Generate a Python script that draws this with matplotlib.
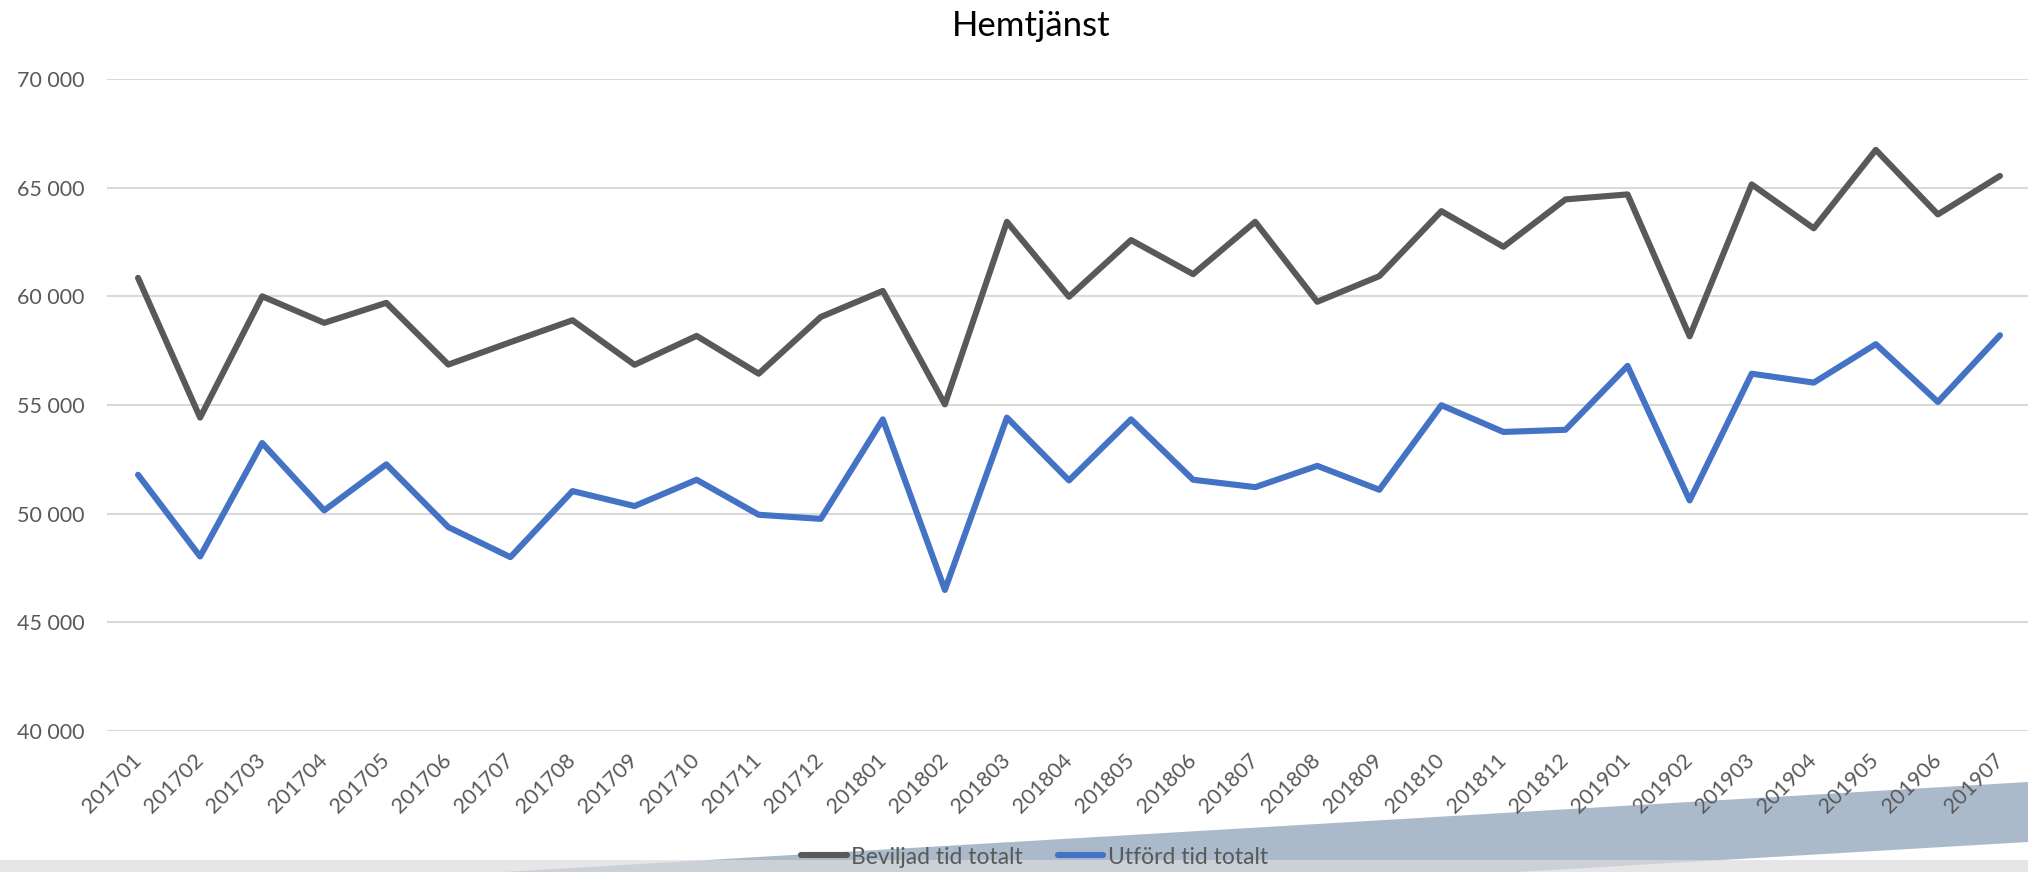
import matplotlib
matplotlib.use("Agg")
import matplotlib.pyplot as plt
from matplotlib.patches import Polygon, Rectangle
from matplotlib.ticker import FuncFormatter

plt.rcParams['font.family'] = ['Lato', 'DejaVu Sans']

months = ["201701", "201702", "201703", "201704", "201705", "201706", "201707", "201708",
          "201709", "201710", "201711", "201712", "201801", "201802", "201803", "201804",
          "201805", "201806", "201807", "201808", "201809", "201810", "201811", "201812",
          "201901", "201902", "201903", "201904", "201905", "201906", "201907"]

beviljad = [60850, 54420, 60000, 58780, 59700, 56860, 57890, 58900,
            56850, 58180, 56440, 59050, 60250, 55030, 63430, 59980,
            62590, 61020, 63430, 59750, 60930, 63920, 62280, 64460,
            64690, 58160, 65150, 63130, 66740, 63770, 65540]

utford = [51790, 48030, 53250, 50150, 52270, 49380, 48000, 51040,
          50350, 51560, 49950, 49760, 54340, 46490, 54420, 51530,
          54340, 51560, 51220, 52200, 51100, 54990, 53760, 53860,
          56800, 50610, 56440, 56030, 57800, 55140, 58210]

series_names = ["Beviljad tid totalt", "Utförd tid totalt"]
title = "Hemtjänst"

W, H = 2028, 872
fig = plt.figure(figsize=(W / 100, H / 100), dpi=100)

# decorative background shapes (bottom)
def fp(x, y):
    return (x / W, 1 - y / H)

wedge = Polygon([fp(504, 872), fp(2028, 782), fp(2028, 842), fp(1518, 872)],
                closed=True, transform=fig.transFigure, facecolor='#ABBACB',
                edgecolor='none', zorder=-3)
fig.patches.append(wedge)
band = Rectangle(fp(0, 872), 1, 12 / H, transform=fig.transFigure,
                 facecolor='#DBDCDF', alpha=0.69, edgecolor='none', zorder=-2)
fig.patches.append(band)

ax = fig.add_axes([107 / W, 141 / H, (2031 - 107) / W, (731 - 79) / H])
ax.set_facecolor('none')

ax.plot(months, beviljad, color='#595959', linewidth=4.4,
        solid_capstyle='round', solid_joinstyle='round', label=series_names[0])
ax.plot(months, utford, color='#4472C4', linewidth=4.4,
        solid_capstyle='round', solid_joinstyle='round', label=series_names[1])

ax.set_ylim(40000, 70000)
ax.set_xlim(-0.5, len(months) - 0.5)
ax.set_yticks(range(40000, 70001, 5000))
ax.yaxis.set_major_formatter(FuncFormatter(lambda v, p: f"{int(v):,}".replace(",", " ")))

ax.yaxis.grid(True, color='#D9D9D9', linewidth=1.5)
ax.set_axisbelow(True)
for s in ax.spines.values():
    s.set_visible(False)

ax.tick_params(axis='y', length=0, pad=16, labelsize=15.5, labelcolor='#595959')
ax.tick_params(axis='x', length=0, pad=19, labelsize=15.5, labelcolor='#595959')
for lab in ax.get_xticklabels():
    lab.set_rotation(45)
    lab.set_ha('right')
    lab.set_va('center')
    lab.set_rotation_mode('anchor')

fig.text(1031 / W, 1 - 36 / H, title, ha='center', va='baseline',
         fontsize=25, color='#000000')

leg = fig.legend(loc='center', bbox_to_anchor=(1034.5 / W, 1 - 857 / H), ncol=2,
                 frameon=False, fontsize=16.5, handlelength=2.0, handletextpad=0.2,
                 columnspacing=1.5, borderpad=0)
for t in leg.get_texts():
    t.set_color('#595959')

fig.savefig("out.png", dpi=100)
